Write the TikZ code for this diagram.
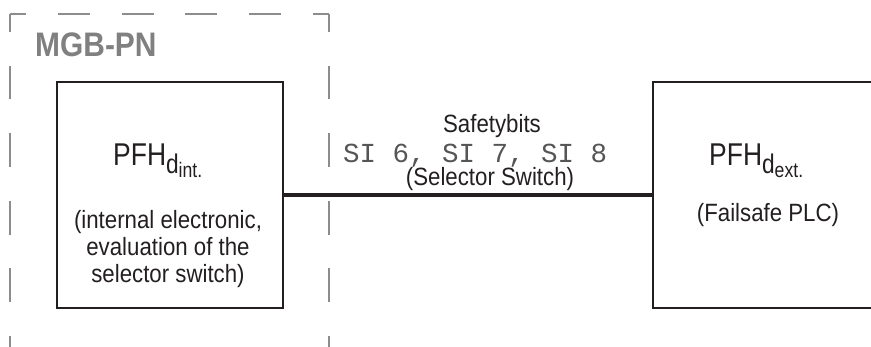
\documentclass[tikz,border=0pt]{standalone}
\usepackage{fontspec}
\newfontfamily\bodyf[FakeStretch=0.89]{Liberation Sans}
\newfontfamily\bigf[FakeStretch=0.84]{Liberation Sans}
\newfontfamily\titlef[FakeStretch=0.88]{Liberation Sans}
\newfontfamily\monof{Liberation Mono}
\definecolor{frame}{RGB}{140,140,140}
\definecolor{titlegray}{RGB}{128,128,128}
\definecolor{boxline}{RGB}{35,31,32}
\definecolor{monogray}{RGB}{85,85,85}
\newcommand{\pfhd}[1]{{\bigf\fontsize{31.5}{32}\selectfont PFH\raisebox{-8pt}{\fontsize{27}{27}\selectfont d\raisebox{-4pt}{\fontsize{21}{21}\selectfont #1}}}}
\tikzset{
  unitbox/.style={draw=boxline, line width=2.5pt, rectangle, inner sep=0pt, minimum height=226pt},
  bodytext/.style={inner sep=0pt, font=\bodyf\fontsize{25}{27}\selectfont, text=boxline},
  hframe/.style={draw=frame, line width=2pt, dash pattern=on 31.9pt off 31.9pt, dash phase=16pt},
  vframe/.style={draw=frame, line width=2pt, dash pattern=on 33.8pt off 33.8pt, dash phase=16pt},
  link/.style={draw=boxline, line width=4.5pt}
}
\begin{document}
\begin{tikzpicture}[x=1pt,y=1pt]
\useasboundingbox (0,0) rectangle (871,347);
\clip (0,0) rectangle (871,347);
% dashed frame of MGB-PN
\coordinate (ftl) at (10,333);
\coordinate (ftr) at (329,333);
\coordinate (fbl) at (10,-20);
\coordinate (fbr) at (329,-20);
\draw[hframe] (ftl) -- (ftr);
\draw[vframe] (ftl) -- (fbl);
\draw[vframe] (ftr) -- (fbr);
\node[anchor=base west, inner sep=0pt, text=titlegray, font=\titlef\bfseries\fontsize{34}{34}\selectfont] (title) at (35,290.5) {MGB-PN};
% boxes
\node[unitbox, minimum width=226pt] (lbox) at (170,152) {};
\node[unitbox, minimum width=260pt] (rbox) at (783,152) {};
\draw[link] (lbox.east) -- (rbox.west);
% left box texts
\node[anchor=base west, inner sep=0pt, text=boxline] (lpfh) at (113,181) {\pfhd{int.}};
\node[bodytext, anchor=north, align=center] (ldesc) at (168,137) {(internal electronic,\\evaluation of the\\selector switch)};
% right box texts
\node[anchor=base west, inner sep=0pt, text=boxline] (rpfh) at (709,181) {\pfhd{ext.}};
\node[bodytext, anchor=base] (rdesc) at (768,125) {(Failsafe PLC)};
% connector labels
\node[bodytext, anchor=base] (sbits) at (492,214) {Safetybits};
\node[anchor=base west, inner sep=0pt, font=\monof\fontsize{27.5}{28}\selectfont, text=monogray] (sibits) at (343,184) {SI 6, SI 7, SI 8};
\node[bodytext, anchor=base] (selsw) at (490,161) {(Selector Switch)};
\end{tikzpicture}
\end{document}
